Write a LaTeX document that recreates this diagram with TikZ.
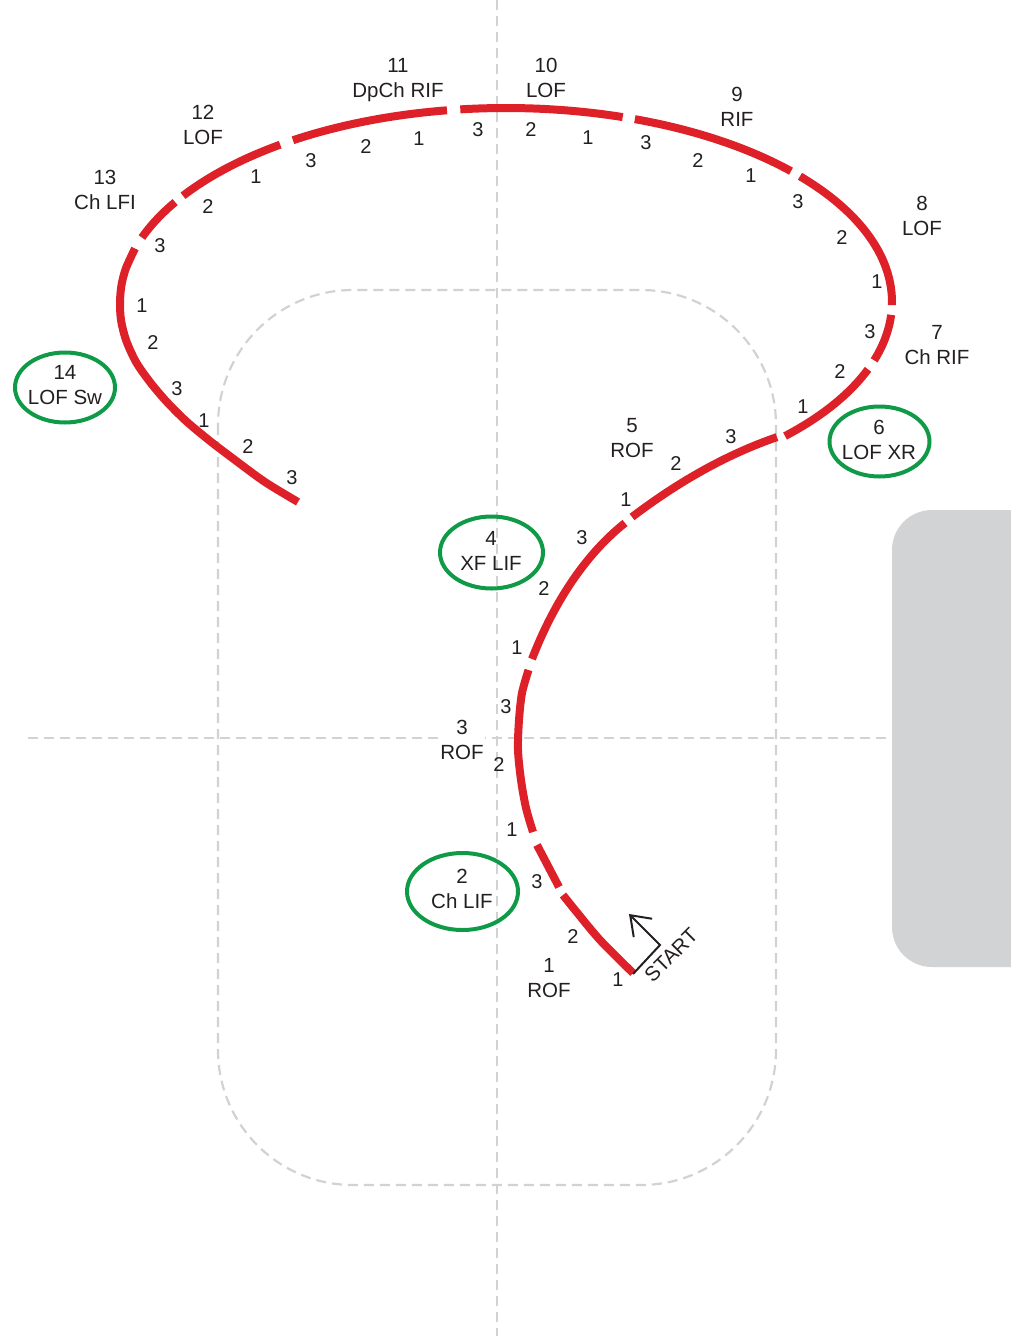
\documentclass[tikz,border=0pt]{standalone}
\usepackage{fontspec}
\setmainfont{Liberation Sans}
\usetikzlibrary{arrows.meta}
\definecolor{skred}{HTML}{DE2128}
\definecolor{skgreen}{HTML}{0E9A47}
\definecolor{guide}{HTML}{D2D2D2}
\definecolor{barrier}{HTML}{D1D3D4}
\definecolor{ink}{HTML}{231F20}
\begin{document}
\begin{tikzpicture}[x=1pt,y=-1pt,
  lbl/.style={font=\fontsize{20.5}{25}\selectfont, text=ink, inner sep=0pt, align=center, text depth=0pt},
  stepnum/.style={font=\fontsize{20}{24}\selectfont, text=ink, inner sep=0pt},
  edgeseg/.style={draw=skred, line width=8pt, line cap=butt, line join=round},
  guideline/.style={draw=guide, line width=2.2pt, dash pattern=on 10pt off 6pt},
  ring/.style={draw=skgreen, line width=4pt}]
\useasboundingbox (0,0) rectangle (1011,1336);
\clip (0,0) rectangle (1011,1336);
% rink guides
\fill[barrier, rounded corners=40pt] (892,510) rectangle (1070,967);
\draw[guideline, rounded corners=135pt] (218,290) rectangle (776,1185);
\coordinate (vtop) at (497,0);
\coordinate (vbot) at (497,1336);
\coordinate (hl) at (28,738);
\coordinate (hr) at (892,738);
\draw[guideline] (vtop) -- (vbot);
\draw[guideline] (hl) -- (hr);
% red pattern: lower S
\draw[edgeseg] plot[smooth] coordinates {(633,973) (600,940) (575,910) (563,895)};
\draw[edgeseg] plot[smooth] coordinates {(559,887) (548,866) (537,845)};
\draw[edgeseg] plot[smooth] coordinates {(533,832) (526,808) (521,780) (518,750) (519,720) (522,693) (528.5,670)};
\draw[edgeseg] (532,659) .. controls (551.8,607.8) and (582.1,557.1) .. (625,523);
\draw[edgeseg] plot[domain=0:145, samples=30] ({632+\x},{517-0.759*\x+0.00143*\x*\x});
% red pattern: big loop (ellipse centre 506,302)
\draw[edgeseg] plot[domain=-43.7:-20.3, samples=30] ({506+386*cos(\x)},{302-194*sin(\x)});
\draw[edgeseg] plot[domain=-17.5:-3.8, samples=20] ({506+386*cos(\x)},{302-194*sin(\x)});
\draw[edgeseg] plot[domain=-0.9:40.4, samples=40] ({506+386*cos(\x)},{302-194*sin(\x)});
\draw[edgeseg] plot[domain=42.4:70.5, samples=30] ({506+386*cos(\x)},{302-194*sin(\x)});
\draw[edgeseg] plot[domain=72.4:96.8, samples=30] ({506+386*cos(\x)},{302-194*sin(\x)});
\draw[edgeseg] plot[domain=98.8:123.5, samples=30] ({506+386*cos(\x)},{302-194*sin(\x)});
\draw[edgeseg] plot[domain=125.8:146.8, samples=30] ({506+386*cos(\x)},{302-194*sin(\x)});
\draw[edgeseg] plot[domain=149:160.6, samples=20] ({506+386*cos(\x)},{302-194*sin(\x)});
\draw[edgeseg] plot[smooth] coordinates {(135,248.5) (125.9,268.3) (121.5,285.1) (120,302) (121,320) (126,340) (136,362) (150,382) (166,401) (186,421) (210,441) (235,460) (265,482) (298,502)};
% start arrow
\coordinate (st0) at (633,974);
\coordinate (stc) at (660,945);
\coordinate (stt) at (629,914);
\draw[ink, line width=2pt, line join=miter, -{Straight Barb[length=18pt,width=26pt,line width=2pt]}] (st0) -- (stc) -- (stt);
\node[lbl, rotate=45] (starttxt) at (671,955) {START};
% element labels
\node[lbl] (l1) at (549,977.5) {1\\ROF};
\node[lbl] (l2) at (462,888.5) {2\\Ch LIF};
\node[lbl, fill=white, inner sep=1pt] (l3) at (462,740) {3\\ROF};
\node[lbl] (l4) at (491,551) {4\\XF LIF};
\node[lbl] (l5) at (632,437.5) {5\\ROF};
\node[lbl] (l6) at (879,440) {6\\LOF XR};
\node[lbl] (l7) at (937,344.5) {7\\Ch RIF};
\node[lbl] (l8) at (922,215.5) {8\\LOF};
\node[lbl] (l9) at (737,107) {9\\RIF};
\node[lbl] (l10) at (546,77.5) {10\\LOF};
\node[lbl] (l11) at (398,77.5) {11\\DpCh RIF};
\node[lbl] (l12) at (203,124.5) {12\\LOF};
\node[lbl] (l13) at (105,189.5) {13\\Ch LFI};
\node[lbl] (l14) at (65,385) {14\\LOF Sw};
% rings
\coordinate (c2) at (462.5,891.5);
\coordinate (c4) at (491.5,552.5);
\coordinate (c6) at (879.5,441.5);
\coordinate (c14) at (65,387.5);
\draw[ring] (c2) ellipse [x radius=55.5pt, y radius=38.5pt];
\draw[ring] (c4) ellipse [x radius=51.5pt, y radius=36pt];
\draw[ring] (c6) ellipse [x radius=50pt, y radius=35pt];
\draw[ring] (c14) ellipse [x radius=50pt, y radius=35pt];
% step counts
\node[stepnum] (s1) at (618,980) {1};
\node[stepnum] (s2) at (573,937) {2};
\node[stepnum] (s3) at (537,882) {3};
\node[stepnum] (s4) at (512,830) {1};
\node[stepnum] (s5) at (499,765) {2};
\node[stepnum] (s6) at (506,707) {3};
\node[stepnum] (s7) at (517,648) {1};
\node[stepnum] (s8) at (544,589) {2};
\node[stepnum] (s9) at (582,538) {3};
\node[stepnum] (s10) at (626,500) {1};
\node[stepnum] (s11) at (676,464) {2};
\node[stepnum] (s12) at (731,437) {3};
\node[stepnum] (s13) at (803,407) {1};
\node[stepnum] (s14) at (840,372) {2};
\node[stepnum] (s15) at (870,332) {3};
\node[stepnum] (s16) at (877,282) {1};
\node[stepnum] (s17) at (842,238) {2};
\node[stepnum] (s18) at (798,202) {3};
\node[stepnum] (s19) at (751,176) {1};
\node[stepnum] (s20) at (698,161) {2};
\node[stepnum] (s21) at (646,143) {3};
\node[stepnum] (s22) at (588,138) {1};
\node[stepnum] (s23) at (531,130) {2};
\node[stepnum] (s24) at (478,130) {3};
\node[stepnum] (s25) at (419,139) {1};
\node[stepnum] (s26) at (366,147) {2};
\node[stepnum] (s27) at (311,161) {3};
\node[stepnum] (s28) at (256,177) {1};
\node[stepnum] (s29) at (208,207) {2};
\node[stepnum] (s30) at (160,246) {3};
\node[stepnum] (s31) at (142,306) {1};
\node[stepnum] (s32) at (153,343) {2};
\node[stepnum] (s33) at (177,389) {3};
\node[stepnum] (s34) at (204,421) {1};
\node[stepnum] (s35) at (248,447) {2};
\node[stepnum] (s36) at (292,478) {3};
\end{tikzpicture}
\end{document}
